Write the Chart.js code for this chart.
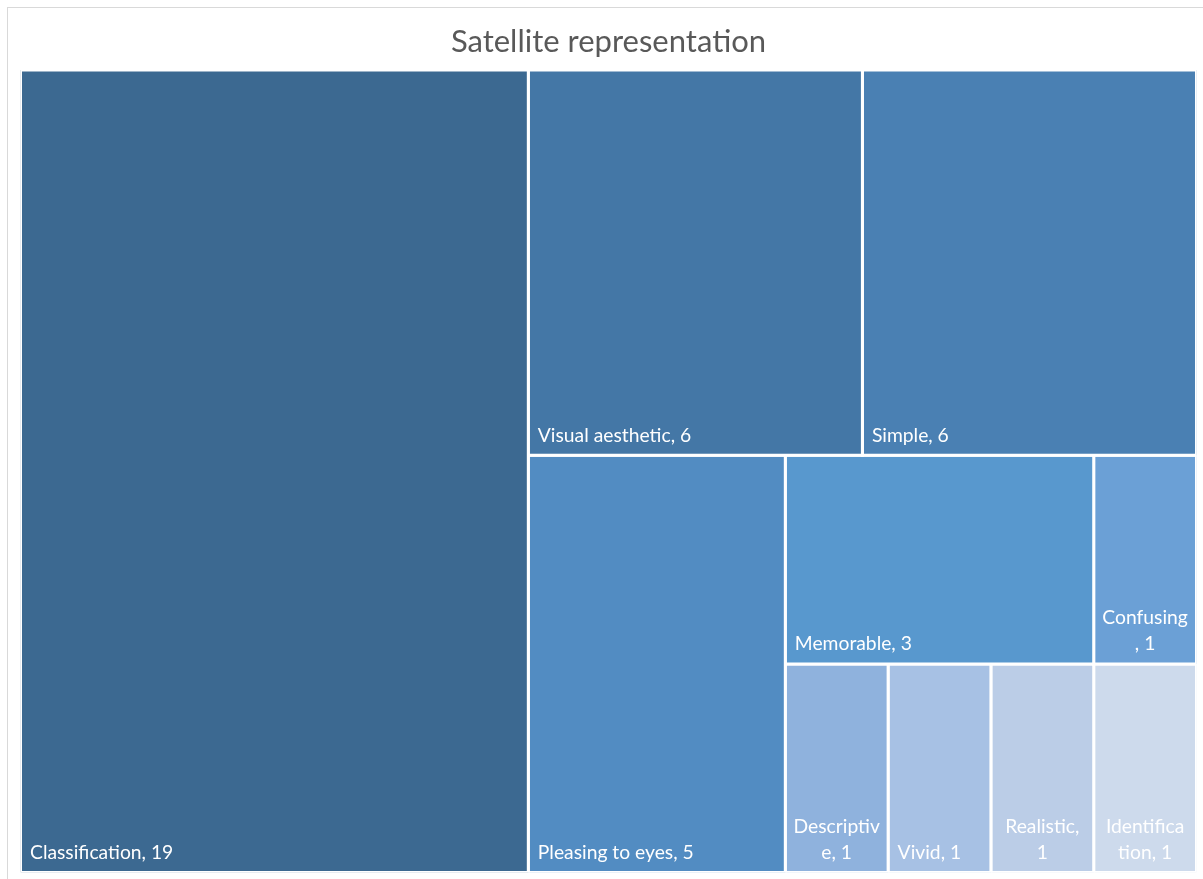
<!DOCTYPE html>
<html>
<head>
<meta charset="utf-8">
<script src="https://cdn.jsdelivr.net/npm/chart.js@4/dist/chart.umd.min.js"></script>
<style>
  html, body { margin: 0; padding: 0; background: #ffffff; }
  canvas { display: block; }
</style>
</head>
<body>
<canvas id="c" width="1203" height="879"></canvas>
<script>
// ---- data ----
const categories = ['Classification', 'Visual aesthetic', 'Simple', 'Pleasing to eyes', 'Memorable',
                    'Confusing', 'Descriptive', 'Vivid', 'Realistic', 'Identification'];
const counts = [19, 6, 6, 5, 3, 1, 1, 1, 1, 1];
const colors = ['#3C6991', '#4477A6', '#4A80B3', '#528CC2', '#5898CE',
                '#6BA0D6', '#8FB2DD', '#A7C1E4', '#BBCDE7', '#CDDAEC'];
// strips of the treemap layout (how many cells per strip, and strip orientation)
const groupSizes = [1, 2, 1, 2, 4];
const groupDirs = ['column', 'row', 'column', 'row', 'row'];
// where the label text wraps in narrow cells (character index in "name, value"; null = one line)
const labelBreaks = [null, null, null, null, null, 9, 10, null, 10, 10];
const titleText = 'Satellite representation';

const FONT = "Lato, 'Open Sans', sans-serif";
const LABEL_SIZE = 19.3;

// ---- slice-and-dice layout in data units (0..100 each axis) ----
function layout() {
  const cells = [];
  let x0 = 0, y0 = 0, x1 = 100, y1 = 100;
  let idx = 0;
  let remaining = counts.reduce((a, b) => a + b, 0);
  groupSizes.forEach((n, g) => {
    const vals = counts.slice(idx, idx + n);
    const gsum = vals.reduce((a, b) => a + b, 0);
    if (groupDirs[g] === 'column') {
      const w = (x1 - x0) * gsum / remaining;
      let cy = y0;
      vals.forEach((v, k) => {
        const h = (y1 - y0) * v / gsum;
        cells.push({ i: idx + k, x0: x0, x1: x0 + w, y0: cy, y1: cy + h });
        cy += h;
      });
      x0 += w;
    } else {
      const h = (y1 - y0) * gsum / remaining;
      let cx = x0;
      vals.forEach((v, k) => {
        const w = (x1 - x0) * v / gsum;
        cells.push({ i: idx + k, x0: cx, x1: cx + w, y0: y0, y1: y0 + h });
        cx += w;
      });
      y0 += h;
    }
    remaining -= gsum;
    idx += n;
  });
  return cells;
}
const cells = layout();

const datasets = cells.map(c => ({
  label: categories[c.i],
  data: [{ x: c.x0, y: c.y0 }, { x: c.x1, y: c.y0 }, { x: c.x1, y: c.y1 }, { x: c.x0, y: c.y1 }, { x: c.x0, y: c.y0 }],
  backgroundColor: colors[c.i],
  borderColor: '#ffffff',
  borderWidth: 3,
  borderJoinStyle: 'miter',
  fill: 'shape',
  pointRadius: 0,
  pointHoverRadius: 0,
  tension: 0
}));

const framePlugin = {
  id: 'frame',
  beforeDraw(chart) {
    const ctx = chart.ctx;
    ctx.save();
    ctx.fillStyle = '#ffffff';
    ctx.fillRect(0, 0, chart.width, chart.height);
    ctx.strokeStyle = '#d9d9d9';
    ctx.lineWidth = 1;
    ctx.strokeRect(7.5, 7.5, chart.width, chart.height);
    ctx.restore();
  }
};

function labelLines(i) {
  const text = categories[i] + ', ' + counts[i];
  const b = labelBreaks[i];
  if (b === null) return [text];
  const first = text.slice(0, b).replace(/\s+$/, '');
  const second = text.slice(b).replace(/^\s+/, '');
  return [first, second];
}

const labelPlugin = {
  id: 'cellLabels',
  afterDatasetsDraw(chart) {
    const ctx = chart.ctx;
    const xs = chart.scales.x, ys = chart.scales.y;
    ctx.save();
    ctx.font = LABEL_SIZE + 'px ' + FONT;
    ctx.fillStyle = '#ffffff';
    ctx.textBaseline = 'alphabetic';
    cells.forEach(c => {
      const left = xs.getPixelForValue(c.x0) + 1.5;
      const right = xs.getPixelForValue(c.x1) - 1.5;
      const bottom = ys.getPixelForValue(c.y1) - 1.5;
      const lines = labelLines(c.i);
      const lh = 26;
      const base = bottom - 12;
      lines.forEach((ln, k) => {
        const y = base - (lines.length - 1 - k) * lh;
        if (lines.length > 1) {
          ctx.textAlign = 'center';
          ctx.fillText(ln, (left + right) / 2, y);
        } else {
          ctx.textAlign = 'left';
          ctx.fillText(ln, left + 8, y);
        }
      });
    });
    ctx.restore();
  }
};

new Chart(document.getElementById('c'), {
  type: 'line',
  data: { datasets },
  options: {
    responsive: false,
    animation: false,
    events: [],
    layout: { padding: { left: 20.5, right: 6.5, top: 0, bottom: 6.5 } },
    plugins: {
      legend: { display: false },
      tooltip: { enabled: false },
      title: {
        display: true,
        text: titleText,
        color: '#595959',
        font: { family: FONT, size: 31, weight: 'normal', lineHeight: 1.2 },
        padding: { top: 23, bottom: 9.9 }
      }
    },
    scales: {
      x: { type: 'linear', display: false, min: 0, max: 100 },
      y: { type: 'linear', display: false, min: 0, max: 100, reverse: true }
    }
  },
  plugins: [framePlugin, labelPlugin]
});
</script>
</body>
</html>
